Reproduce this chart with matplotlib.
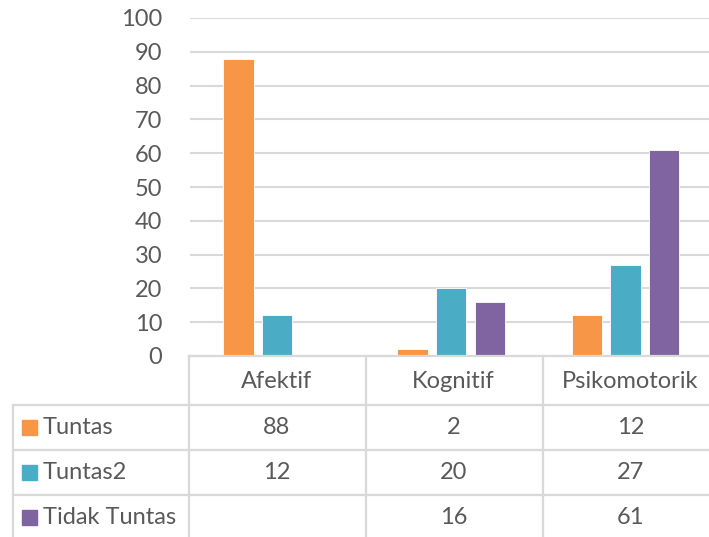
import matplotlib.pyplot as plt
from matplotlib.lines import Line2D
from matplotlib.patches import Rectangle

plt.rcParams['font.family'] = ['Lato', 'DejaVu Sans']

categories = ['Afektif', 'Kognitif', 'Psikomotorik']
series = ['Tuntas', 'Tuntas2', 'Tidak Tuntas']
tuntas = [88, 2, 12]
tuntas2 = [12, 20, 27]
tidak_tuntas = [None, 16, 61]
colors = ['#F79646', '#4BACC6', '#8064A2']

W, H = 709, 537
text_col = '#595959'
grid_col = '#D9D9D9'
fs = 17


def fx(x):
    return x / W


def fy(y):
    return 1 - y / H


fig = plt.figure(figsize=(W / 100, H / 100), dpi=100)
ax = fig.add_axes([fx(190), fy(356), fx(712.5) - fx(190), fy(18) - fy(356)])

values = [tuntas, tuntas2, tidak_tuntas]
offsets = [-0.222, 0, 0.222]
for vals, off, c in zip(values, offsets, colors):
    xs = [i + off for i, v in enumerate(vals) if v is not None]
    ys = [v for v in vals if v is not None]
    ax.bar(xs, ys, width=0.175, color=c, edgecolor='white', linewidth=0.6, zorder=3)

ax.set_xlim(-0.5, 2.5)
ax.set_ylim(0, 100)
ax.set_yticks(range(0, 101, 10))
ax.yaxis.grid(True, color=grid_col, linewidth=1.5, zorder=0)
ax.set_xticks([])
for s in ax.spines.values():
    s.set_visible(False)
ax.tick_params(axis='y', length=0, pad=20, labelsize=fs, labelcolor=text_col)

# data table below the chart
col_x = [189, 366, 543, 720]
row_y = [356, 405, 450, 495, 537]
lw = 1.6
for x in col_x[:3]:
    fig.add_artist(Line2D([fx(x), fx(x)], [fy(356), fy(537)], color=grid_col, lw=lw))
fig.add_artist(Line2D([fx(13), fx(13)], [fy(405), fy(537)], color=grid_col, lw=lw))
fig.add_artist(Line2D([fx(189), fx(709)], [fy(356), fy(356)], color=grid_col, lw=lw))
for y in row_y[1:4]:
    fig.add_artist(Line2D([fx(13), fx(709)], [fy(y), fy(y)], color=grid_col, lw=lw))

for i, cat in enumerate(categories):
    cx = (col_x[i] + col_x[i + 1]) / 2 - 1
    fig.text(fx(cx), fy(381), cat, ha='center', va='center', fontsize=fs, color=text_col)

for r, (name, vals, c) in enumerate(zip(series, values, colors)):
    cy = (row_y[r + 1] + row_y[r + 2]) / 2 if r < 2 else 517
    fig.add_artist(Rectangle((fx(22), fy(cy + 7.5)), fx(15), fy(0) - fy(15), color=c))
    fig.text(fx(43), fy(cy), name, ha='left', va='center', fontsize=fs, color=text_col)
    for i, v in enumerate(vals):
        if v is None:
            continue
        cx = (col_x[i] + col_x[i + 1]) / 2 - 1
        fig.text(fx(cx), fy(cy), str(v), ha='center', va='center', fontsize=fs, color=text_col)

fig.savefig('out.png', dpi=100, facecolor='white')
